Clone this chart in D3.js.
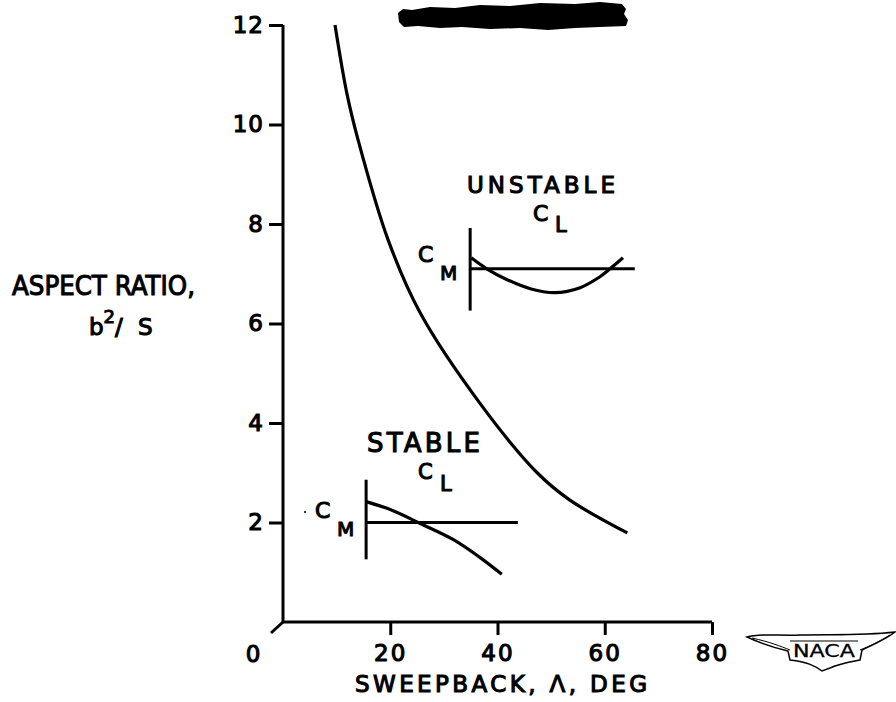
<!DOCTYPE html>
<html>
<head>
<meta charset="utf-8">
<script src="https://cdn.jsdelivr.net/npm/d3@7"></script>
<style>
  body { margin: 0; background: #fff; }
  svg { display: block; }
  text { font-family: "DejaVu Sans", sans-serif; fill: #000; stroke: #000; stroke-width: 1.1px; }
</style>
</head>
<body>
<div id="chart"></div>
<script>
// sweepback (deg) vs aspect ratio boundary curve
let boundarySweep = [9.7, 11.9, 14.0, 19.6, 25.6, 36.7, 47.4, 53.5, 64.2];
let boundaryAR    = [12.0, 10.63, 9.69, 7.68, 6.21, 4.40, 3.00, 2.45, 1.79];

// stable Cm vs CL sketch (placed in chart units)
let stableSweep = [15.5, 20.0, 25.6, 31.7, 36.7, 40.8];
let stableAR    = [2.42, 2.26, 1.98, 1.66, 1.30, 0.96];
let stableAxes  = { x0: 15.5, x1: 43.8, y0: 2.0, yTop: 2.86, yBot: 1.26 };

// unstable Cm vs CL sketch
let unstableSweep = [35.1, 38.0, 41.8, 46.1, 50.7, 55.4, 59.1, 61.0, 63.4];
let unstableAR    = [7.32, 7.10, 6.88, 6.70, 6.62, 6.72, 6.94, 7.10, 7.32];
let unstableAxes  = { x0: 34.9, x1: 65.6, y0: 7.1, yTop: 7.92, yBot: 6.26 };

let xTicks = [20, 40, 60, 80];
let yTicks = [2, 4, 6, 8, 10, 12];

let width = 896, height = 702;

let x = d3.scaleLinear().domain([0, 80]).range([283, 712]);
let y = d3.scaleLinear().domain([0, 12]).range([622, 25]);

let svg = d3.select("#chart").append("svg")
  .attr("width", width)
  .attr("height", height);

// blacked-out title
svg.append("path")
  .attr("d", "M398,13 L403,9 L412,10 L430,7 L455,8 L480,5 L510,6 L540,3 L575,4 L600,2 L622,4 L626,9 L624,14 L628,20 L626,26 " +
             "L600,27 L575,28 L548,30 L520,28 L490,29 L462,27 L440,28 L418,26 L404,27 L399,22 Z")
  .attr("fill", "#000");

// axes
let yAxis = d3.axisLeft(y).tickValues(yTicks).tickSize(14).tickPadding(5).tickSizeOuter(0);
let gy = svg.append("g").attr("transform", "translate(" + x(0) + ",0)").call(yAxis);
gy.select(".domain").remove();
gy.selectAll("line").attr("stroke", "#000").attr("stroke-width", 3);
gy.selectAll("text").style("font-size", "23px").attr("font-family", null).attr("letter-spacing", "1px");

let xAxis = d3.axisBottom(x).tickValues(xTicks).tickSize(13).tickPadding(10).tickSizeOuter(0);
let gx = svg.append("g").attr("transform", "translate(0," + y(0) + ")").call(xAxis);
gx.select(".domain").remove();
gx.selectAll("line").attr("stroke", "#000").attr("stroke-width", 3);
gx.selectAll("text").style("font-size", "23px").attr("font-family", null).attr("letter-spacing", "2px");

// axis lines
svg.append("path")
  .attr("d", "M" + x(0) + "," + y(12) + " L" + x(0) + "," + y(0) + " L" + x(80) + "," + y(0))
  .attr("fill", "none").attr("stroke", "#000").attr("stroke-width", 3);
// diagonal tick at origin
svg.append("line")
  .attr("x1", x(0)).attr("y1", y(0))
  .attr("x2", x(0) - 12).attr("y2", y(0) + 11)
  .attr("stroke", "#000").attr("stroke-width", 3);
svg.append("text").attr("x", 253).attr("y", 662)
  .attr("text-anchor", "middle").style("font-size", "23px").text("0");

// axis titles
svg.append("text").attr("x", 12).attr("y", 295)
  .attr("textLength", 183).attr("lengthAdjust", "spacingAndGlyphs")
  .style("font-size", "27px").text("ASPECT RATIO,");
let bs = svg.append("text").attr("x", 89).attr("y", 335).style("font-size", "23px");
bs.append("tspan").text("b");
bs.append("tspan").attr("dy", -12).style("font-size", "18px").text("2");
bs.append("tspan").attr("dy", 12).attr("letter-spacing", "4px").text("/ S");

svg.append("text").attr("x", 355).attr("y", 692)
  .attr("textLength", 292).attr("lengthAdjust", "spacing")
  .style("font-size", "23px").text("SWEEPBACK, Λ, DEG");

// boundary curve
let line = d3.line()
  .x(function (d) { return x(d[0]); })
  .y(function (d) { return y(d[1]); })
  .curve(d3.curveCatmullRom);

svg.append("path")
  .datum(d3.zip(boundarySweep, boundaryAR))
  .attr("d", line)
  .attr("fill", "none").attr("stroke", "#000").attr("stroke-width", 3.2);

function drawInset(ax, sw, ar) {
  svg.append("line")
    .attr("x1", x(ax.x0)).attr("x2", x(ax.x0))
    .attr("y1", y(ax.yTop)).attr("y2", y(ax.yBot))
    .attr("stroke", "#000").attr("stroke-width", 3);
  svg.append("line")
    .attr("x1", x(ax.x0)).attr("x2", x(ax.x1))
    .attr("y1", y(ax.y0)).attr("y2", y(ax.y0))
    .attr("stroke", "#000").attr("stroke-width", 3);
  svg.append("path")
    .datum(d3.zip(sw, ar))
    .attr("d", line)
    .attr("fill", "none").attr("stroke", "#000").attr("stroke-width", 3.2);
}

drawInset(stableAxes, stableSweep, stableAR);
drawInset(unstableAxes, unstableSweep, unstableAR);

// inset labels
function label(px, py, str, size, len) {
  let t = svg.append("text").attr("x", px).attr("y", py).style("font-size", size + "px").text(str);
  if (len) t.attr("textLength", len).attr("lengthAdjust", "spacing");
  return t;
}

label(367, 452, "STABLE", 26, 113);
label(418, 479, "C", 21);
label(440, 491, "L", 21);
label(315, 518, "C", 22);
label(337, 536, "M", 20);
svg.append("circle").attr("cx", 305).attr("cy", 512).attr("r", 1).attr("fill", "#000");

label(467, 193, "UNSTABLE", 23, 148);
label(533, 221, "C", 22);
label(555, 232, "L", 21);
label(418, 262, "C", 22);
label(440, 280, "M", 20);

// NACA emblem
let logo = svg.append("g");
logo.append("path")
  .attr("d", "M747,637 C760,633 780,636 800,635 C830,634 860,636 895,632 " +
             "C885,640 872,645 862,650 L860,660 C850,662 838,664 830,668 L822,671 " +
             "C815,666 808,662 790,660 L788,651 C775,648 760,643 747,637 Z")
  .attr("fill", "#fff").attr("stroke", "#000").attr("stroke-width", 1.5);
logo.append("path")
  .attr("d", "M752,638 C770,642 780,646 790,650 M890,635 C878,642 870,646 860,650 M790,641 L858,641")
  .attr("fill", "none").attr("stroke", "#000").attr("stroke-width", 1);
logo.append("text").attr("x", 824).attr("y", 657)
  .attr("text-anchor", "middle")
  .attr("textLength", 62).attr("lengthAdjust", "spacingAndGlyphs")
  .style("font-size", "17px").style("stroke-width", "0.3px").text("NACA");
</script>
</body>
</html>
